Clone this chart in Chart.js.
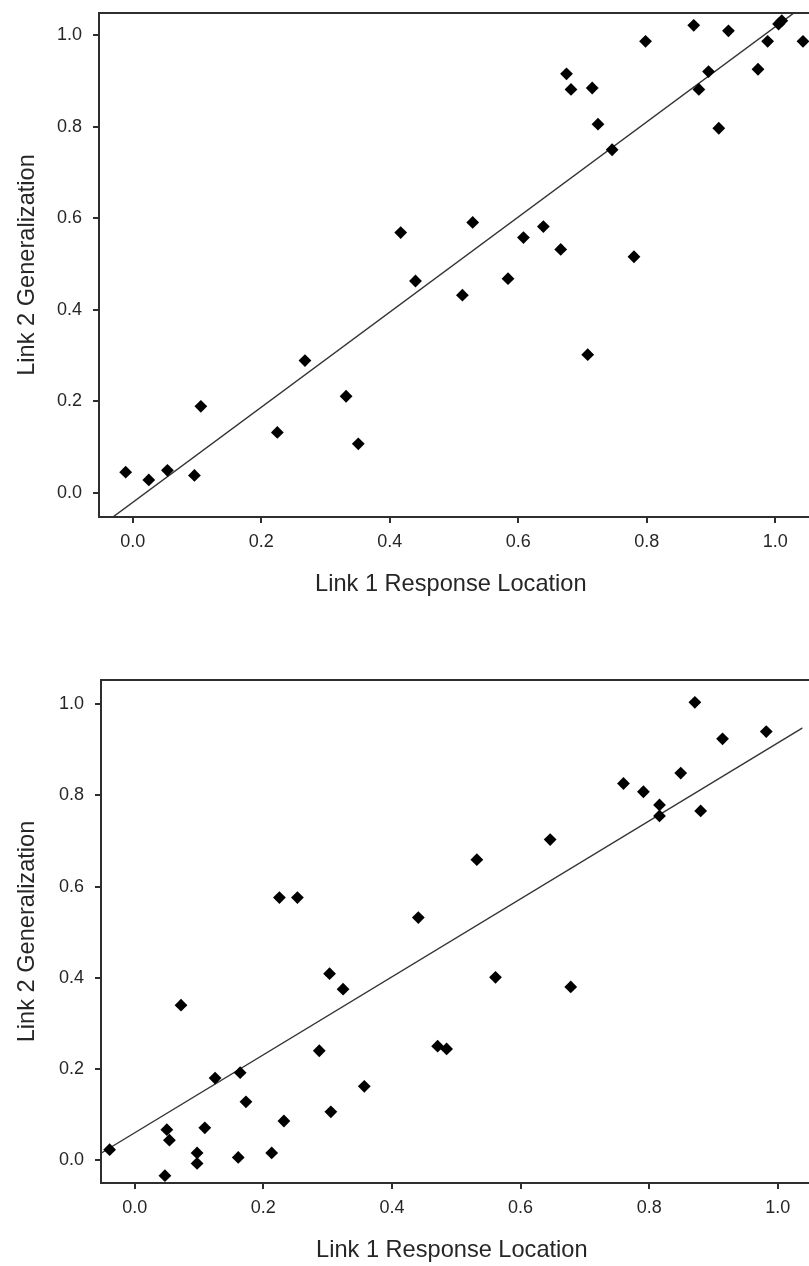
<!DOCTYPE html>
<html lang="en">

<head>
    <meta charset="UTF-8">
    <title>Link 1 x Link 2</title>
    <script src="https://cdn.jsdelivr.net/npm/chart.js"></script>
    <style>
        html,
        body {
            margin: 0;
            padding: 0;
            background: #fff;
            overflow: hidden;
        }

        .graph {
            position: absolute;
            left: 0;
        }
    </style>
</head>

<body>
    <div class="graph" style="top:0px">
        <canvas id="Grafico1" width="809" height="610"></canvas>
    </div>
    <div class="graph" style="top:610px">
        <canvas id="Grafico2" width="809" height="656"></canvas>
    </div>

    <script>
        // ticks dos dois eixos
        const tickValores = [0, 0.2, 0.4, 0.6, 0.8, 1.0];

        // grafico de cima
        const topoX = [-0.011, 0.025, 0.054, 0.096, 0.106, 0.225, 0.268, 0.332, 0.351, 0.417, 0.440, 0.513, 0.529,
            0.584, 0.608, 0.639, 0.666, 0.708, 0.675, 0.682, 0.715, 0.724, 0.746, 0.780, 0.798, 0.873, 0.881,
            0.896, 0.912, 0.927, 0.973, 0.988, 1.005, 1.010, 1.043];
        const topoY = [0.045, 0.028, 0.049, 0.038, 0.189, 0.132, 0.289, 0.211, 0.107, 0.569, 0.463, 0.432, 0.591,
            0.468, 0.558, 0.582, 0.532, 0.302, 0.916, 0.882, 0.885, 0.806, 0.750, 0.516, 0.987, 1.022, 0.882,
            0.921, 0.797, 1.010, 0.926, 0.987, 1.025, 1.032, 0.987];
        const topoReta = [-0.021, 1.04]; // intercepto, inclinacao

        // grafico de baixo
        const baixoX = [0.871, 0.914, 0.982, 0.849, 0.760, 0.791, 0.816, 0.816, 0.880, 0.646, 0.532, 0.225, 0.253,
            0.441, 0.303, 0.561, 0.678, 0.324, 0.072, 0.287, 0.471, 0.485, 0.164, 0.125, 0.357, 0.173, 0.305,
            0.232, 0.109, 0.050, 0.054, -0.039, 0.097, 0.097, 0.161, 0.213, 0.047];
        const baixoY = [1.004, 0.924, 0.940, 0.849, 0.826, 0.808, 0.779, 0.755, 0.766, 0.703, 0.659, 0.576, 0.576,
            0.532, 0.409, 0.401, 0.380, 0.375, 0.340, 0.240, 0.250, 0.244, 0.192, 0.180, 0.162, 0.128, 0.106,
            0.086, 0.071, 0.067, 0.044, 0.023, 0.016, -0.007, 0.006, 0.016, -0.034];
        const baixoReta = [0.060, 0.855];

        const fonte = "'Liberation Sans', Arial, sans-serif";
        const corTexto = '#262626';
        const corEixo = '#2e2e2e';

        // moldura (esquerda, topo e base) em volta da area do grafico
        const moldura = {
            id: 'moldura',
            afterDatasetsDraw(chart) {
                const { ctx, chartArea } = chart;
                ctx.save();
                ctx.strokeStyle = corEixo;
                ctx.lineWidth = 2;
                ctx.beginPath();
                ctx.moveTo(chart.width + 2, chartArea.top);
                ctx.lineTo(chartArea.left, chartArea.top);
                ctx.lineTo(chartArea.left, chartArea.bottom);
                ctx.lineTo(chart.width + 2, chartArea.bottom);
                ctx.stroke();
                ctx.restore();
            }
        };

        // tira o espaco extra que o chart.js reserva para os rotulos das pontas
        function semPadding(s) {
            s.paddingTop = 0;
            s.paddingBottom = 0;
            s.paddingLeft = 0;
            s.paddingRight = 0;
        }

        function plotarGrafico(id, pontosX, pontosY, reta, caixa) {
            const pontos = pontosX.map((x, i) => ({ x: x, y: pontosY[i] }));
            const linha = [caixa.xMin, caixa.xMax].map(x => ({ x: x, y: reta[0] + reta[1] * x }));

            const config = {
                type: 'scatter',
                data: {
                    datasets: [{
                        data: pontos,
                        pointStyle: 'rectRot',
                        pointRadius: 6.4,
                        backgroundColor: '#000',
                        borderColor: '#000',
                        borderWidth: 0,
                        clip: false
                    },
                    {
                        data: linha,
                        showLine: true,
                        pointRadius: 0,
                        borderColor: '#333',
                        borderWidth: 1.4
                    }]
                },
                options: {
                    responsive: false,
                    animation: false,
                    events: [],
                    layout: { padding: { top: caixa.topo, left: 0, right: 0, bottom: 0 } },
                    plugins: { legend: { display: false }, tooltip: { enabled: false } },
                    scales: {
                        x: {
                            min: caixa.xMin,
                            max: caixa.xMax,
                            afterBuildTicks: (s) => { s.ticks = tickValores.map(v => ({ value: v })); },
                            afterFit: (s) => { s.height = caixa.alturaX; semPadding(s); },
                            border: { display: false },
                            grid: { drawOnChartArea: false, color: corEixo, lineWidth: 2, tickLength: 6 },
                            ticks: {
                                color: corTexto, padding: 8, maxRotation: 0,
                                font: { family: fonte, size: 18 },
                                callback: (v) => Number(v).toFixed(1)
                            },
                            title: {
                                display: true, text: 'Link 1 Response Location', color: corTexto,
                                font: { family: fonte, size: 23.6 },
                                padding: { top: 0, bottom: caixa.padTitulo }
                            }
                        },
                        y: {
                            min: caixa.yMin,
                            max: caixa.yMax,
                            afterBuildTicks: (s) => { s.ticks = tickValores.map(v => ({ value: v })); },
                            afterFit: (s) => { s.width = caixa.larguraY; semPadding(s); },
                            border: { display: false },
                            grid: { drawOnChartArea: false, color: corEixo, lineWidth: 2, tickLength: 6 },
                            ticks: {
                                color: corTexto, padding: 11,
                                font: { family: fonte, size: 18 },
                                callback: (v) => Number(v).toFixed(1)
                            },
                            title: {
                                display: true, text: 'Link 2 Generalization', color: corTexto,
                                font: { family: fonte, size: 23.6 },
                                padding: { top: 13, bottom: 0 }
                            }
                        }
                    }
                },
                plugins: [moldura]
            };

            return new Chart(document.getElementById(id), config);
        }

        plotarGrafico('Grafico1', topoX, topoY, topoReta, {
            xMin: -0.0525, xMax: 1.0424, yMin: -0.053, yMax: 1.049,
            topo: 13, alturaX: 93, larguraY: 99, padTitulo: 11
        });

        plotarGrafico('Grafico2', baixoX, baixoY, baixoReta, {
            xMin: -0.0524, xMax: 1.0385, yMin: -0.050, yMax: 1.053,
            topo: 70, alturaX: 83, larguraY: 101, padTitulo: 1
        });
    </script>
</body>

</html>
